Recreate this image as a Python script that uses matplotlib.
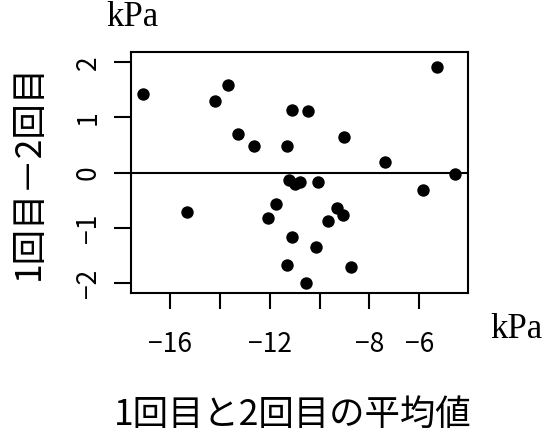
import matplotlib
matplotlib.use("Agg")
import matplotlib.pyplot as plt

# Bland-Altman style data: mean of two measurements vs difference (kPa)
mean_vals = [-17.10, -13.70, -14.21, -11.11, -10.46, -13.28, -12.65, -11.33,
             -9.02, -7.38, -5.28, -4.55, -5.86, -11.23, -10.99, -10.77,
             -10.06, -15.33, -11.74, -12.06, -9.32, -9.06, -9.66, -11.11,
             -10.13, -11.33, -8.76, -10.53]
diff_vals = [1.43, 1.58, 1.29, 1.14, 1.11, 0.71, 0.48, 0.48,
             0.64, 0.20, 1.91, -0.02, -0.32, -0.13, -0.20, -0.17,
             -0.17, -0.71, -0.57, -0.82, -0.64, -0.76, -0.87, -1.16,
             -1.34, -1.66, -1.70, -2.00]
x_ticks = [-16, -14, -12, -10, -8, -6]
x_tick_labels = ["\u221216", "", "\u221212", "", "\u22128", "\u22126"]
y_ticks = [-2, -1, 0, 1, 2]
y_tick_labels = ["\u22122", "\u22121", "0", "1", "2"]

plt.rcParams["font.family"] = ["Noto Sans CJK JP", "DejaVu Sans"]

W, H = 546, 436
fig = plt.figure(figsize=(W / 100, H / 100), dpi=100)
ax = fig.add_axes([130.7 / W, 1 - 293.3 / H, (468.3 - 130.7) / W, (293.3 - 51.7) / H])

ax.scatter(mean_vals, diff_vals, s=80, color="black", zorder=3, linewidths=0)
ax.axhline(0, color="black", lw=1.5)

ax.set_xlim(-17.59, -4.03)
ax.set_ylim(-2.18, 2.19)

ax.set_xticks(x_ticks)
ax.set_xticklabels(x_tick_labels)
ax.set_yticks(y_ticks)
ax.set_yticklabels(y_tick_labels, rotation=90, va="center")
ax.tick_params(axis="x", length=11.5, width=1.5, pad=16, labelsize=19)
ax.tick_params(axis="y", length=12, width=1.5, pad=9, labelsize=19)
for sp in ax.spines.values():
    sp.set_linewidth(1.5)

serif = ["Liberation Serif", "DejaVu Serif"]
fig.text(132.5 / W, 1 - 17 / H, "kPa", family=serif, fontsize=25, ha="center", va="center")
fig.text(516 / W, 1 - 329 / H, "kPa", family=serif, fontsize=25, ha="center", va="center")
fig.text(293 / W, 1 - 415 / H, "1回目と2回目の平均値", fontsize=25.5,
         ha="center", va="center")
fig.text(29 / W, 1 - 172 / H, "1回目－2回目", fontsize=25.5,
         ha="center", va="center", rotation=90)

fig.savefig("out.png", dpi=100)
